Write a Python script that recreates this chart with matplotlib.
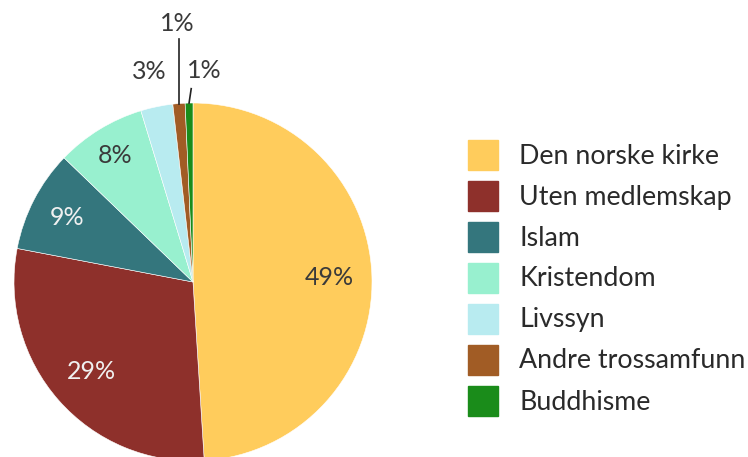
import numpy as np
import matplotlib.pyplot as plt
from matplotlib.patches import Rectangle

plt.rcParams['font.family'] = ['Lato', 'DejaVu Sans']

categories = ['Den norske kirke', 'Uten medlemskap', 'Islam', 'Kristendom',
              'Livssyn', 'Andre trossamfunn', 'Buddhisme']
values = [49.0, 29.0, 9.2, 8.1, 2.9, 1.1, 0.7]
colors = ['#FFCC5C', '#8E302B', '#34767D', '#98F0CF', '#B8EBF0', '#A15C25', '#1A8C1A']
label_colors = ['#3a3a3a', '#f0f0f0', '#f0f0f0', '#3a3a3a', '#3a3a3a', '#3a3a3a', '#3a3a3a']

W, H = 748, 457
fig = plt.figure(figsize=(W / 100, H / 100), dpi=100)

cx, cy, r = 193, 282, 179
ax = fig.add_axes([(cx - r) / W, (H - cy - r) / H, 2 * r / W, 2 * r / H])
wedges, _ = ax.pie(values, colors=colors, startangle=90, counterclock=False,
                   radius=1, wedgeprops=dict(linewidth=0.4, edgecolor='white'))
ax.set_xlim(-1, 1)
ax.set_ylim(-1, 1)
ax.set_aspect('equal')
ax.axis('off')

# label distance per slice (inside for big ones, outside for small)
dists = [0.76, 0.76, 0.79, 0.83, 1.2, None, None]
total = sum(values)
pct_kw = dict(ha='center', va='center', fontsize=18, fontweight='normal', clip_on=False)
for i, w in enumerate(wedges):
    ang = np.deg2rad((w.theta1 + w.theta2) / 2)
    txt = f'{values[i] / total * 100:.0f}%'
    if dists[i] is not None:
        d = dists[i]
        ax.text(d * np.cos(ang), d * np.sin(ang), txt, color=label_colors[i], **pct_kw)
    elif i == 5:
        x0, y0 = np.cos(ang), np.sin(ang)
        ax.plot([x0, x0], [y0, 1.355], color='#222222', lw=1.2, clip_on=False)
        ax.text(x0 - 0.01, 1.445, txt, color=label_colors[i], **pct_kw)
    else:
        x0, y0 = np.cos(ang), np.sin(ang)
        ax.plot([x0, x0 + 0.012], [y0, 1.08], color='#222222', lw=1.2, clip_on=False)
        ax.text(x0 + 0.085, 1.18, txt, color=label_colors[i], **pct_kw)

# legend
for i, (name, col) in enumerate(zip(categories, colors)):
    top = 140 + 41 * i
    fig.patches.append(Rectangle((468 / W, (H - top - 30) / H), 30 / W, 30 / H,
                                 transform=fig.transFigure, color=col))
    fig.text(519 / W, (H - top - 16) / H, name, ha='left', va='center',
             fontsize=19.3, color='#2a2a2a')

fig.savefig('out.png', dpi=100)
